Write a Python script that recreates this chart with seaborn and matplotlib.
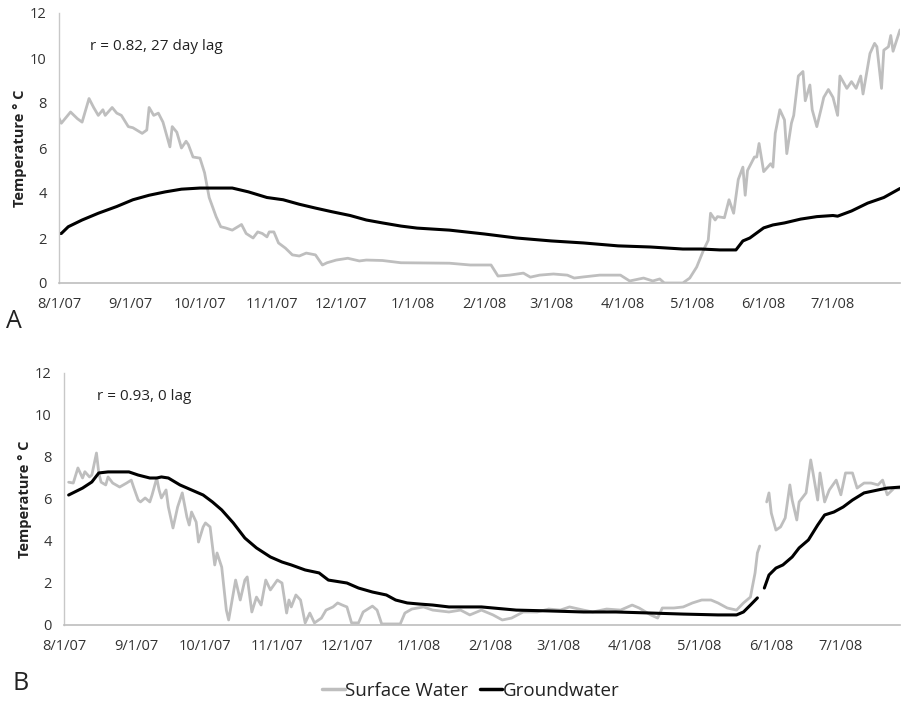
import numpy as np
import pandas as pd
import matplotlib
matplotlib.use("Agg")
import matplotlib.pyplot as plt
import matplotlib.dates as mdates
from matplotlib.ticker import FuncFormatter
from matplotlib.lines import Line2D
import seaborn as sns

START = "2007-08-01"

# ---- Panel A (days since 8/1/07, temperature in deg C) ----
a_sw_day = [0, 1, 5, 8, 10, 13, 15, 17, 19, 20, 23, 25, 27, 30, 32, 36, 38, 39, 41, 43,
            45, 48, 49, 51, 53, 55, 56, 58, 61, 63, 65, 68, 70, 72, 75, 79, 81, 84, 86, 88,
            90, 91, 93, 95, 98, 101, 104, 107, 111, 114, 116, 120, 125, 130, 133, 140, 148, 169, 178, 187,
            190, 195, 201, 204, 208, 214, 220, 223, 227, 234, 243, 247, 253, 257, 260, 262, 270, 273, 276, 279,
            281, 282, 284, 285, 288, 290, 292, 294, 296, 297, 298, 301, 302, 303, 305, 308, 309, 310, 312, 314,
            315, 317, 318, 320, 322, 323, 325, 326, 328, 330, 331, 333, 335, 337, 338, 341, 343, 345, 347, 348,
            351, 353, 354, 356, 357, 359, 360, 361, 364]
a_sw_val = [7.33, 7.1, 7.6, 7.3, 7.15, 8.2, 7.8, 7.45, 7.7, 7.45, 7.8, 7.55, 7.45, 6.95, 6.9, 6.65, 6.8, 7.8, 7.45, 7.55,
            7.15, 6.05, 6.95, 6.7, 6.0, 6.3, 6.15, 5.6, 5.55, 4.9, 3.8, 2.95, 2.5, 2.45, 2.35, 2.6, 2.2, 2.0, 2.27, 2.2,
            2.05, 2.27, 2.27, 1.78, 1.55, 1.25, 1.2, 1.33, 1.25, 0.8, 0.9, 1.02, 1.1, 0.98, 1.02, 1.0, 0.9, 0.88, 0.8, 0.8,
            0.31, 0.35, 0.44, 0.26, 0.35, 0.4, 0.35, 0.22, 0.27, 0.35, 0.35, 0.09, 0.22, 0.09, 0.18, 0.0, 0.0, 0.22, 0.71, 1.47,
            1.9, 3.1, 2.8, 2.95, 2.9, 3.7, 3.1, 4.6, 5.15, 3.9, 5.0, 5.6, 5.6, 6.2, 4.95, 5.3, 5.15, 6.65, 7.7, 7.25,
            5.75, 7.1, 7.45, 9.2, 9.4, 8.1, 8.8, 7.7, 6.95, 7.8, 8.25, 8.6, 8.25, 7.45, 9.2, 8.65, 8.95, 8.65, 9.2, 8.4,
            10.2, 10.65, 10.5, 8.65, 10.35, 10.5, 11.0, 10.3, 11.25]

a_gw_day = [0, 1, 4, 10, 17, 25, 32, 39, 46, 53, 61, 68, 75, 82, 90, 97, 104, 111, 118, 126,
            133, 140, 148, 155, 169, 184, 198, 213, 227, 242, 256, 270, 278, 286, 293, 296, 299, 305, 309, 314,
            321, 328, 335, 337, 343, 350, 357, 364]
a_gw_val = [2.2, 2.2, 2.5, 2.8, 3.1, 3.4, 3.7, 3.9, 4.05, 4.17, 4.22, 4.22, 4.22, 4.05, 3.8, 3.7, 3.5, 3.33, 3.17, 3.0,
            2.8, 2.67, 2.53, 2.44, 2.35, 2.18, 2.0, 1.87, 1.78, 1.65, 1.6, 1.51, 1.51, 1.47, 1.47, 1.87, 2.0, 2.45, 2.58, 2.67,
            2.84, 2.95, 3.0, 2.97, 3.2, 3.55, 3.8, 4.2]

# ---- Panel B (NaN marks a gap in the record) ----
b_sw_day = [2, 4, 6, 8, 9, 11, 12, 14, 15, 16, 18, 19, 21, 24, 27, 29, 30, 32, 33, 35,
            37, 38, 40, 41, 42, 44, 45, 47, 49, 51, 53, 54, 55, 57, 58, 60, 61, 63, 65, 66,
            68, 70, 71, 74, 76, 78, 79, 81, 83, 85, 87, 89, 92, 94, 96, 97, 98, 100, 102, 104,
            106, 108, 111, 113, 116, 118, 120, 122, 124, 127, 129, 133, 135, 137, 145, 147, 150, 155, 159, 166,
            171, 175, 180, 185, 189, 193, 198, 204, 209, 214, 218, 224, 228, 234, 240, 245, 248, 253, 256, 258,
            263, 267, 271, 275, 279, 282, 286, 290, 293, 296, 298, 299, 300, 301.5, 303, 304, 305, 307, 309, 311,
            313, 314, 316, 317, 320, 322, 323, 325, 326, 328, 330, 333, 335, 337, 340, 342, 345, 348, 351, 353,
            355, 358, 361]
b_sw_val = [6.8, 6.76, 7.48, 7.0, 7.3, 7.05, 7.14, 8.19, 7.24, 6.8, 6.67, 7.05, 6.76, 6.57, 6.76, 6.9, 6.57, 5.95, 5.86, 6.05,
            5.86, 6.2, 7.0, 6.43, 6.05, 6.43, 5.62, 4.62, 5.62, 6.29, 5.14, 4.76, 5.38, 4.9, 3.95, 4.67, 4.86, 4.67, 2.86, 3.43,
            2.76, 0.71, 0.24, 2.14, 1.19, 2.14, 2.29, 0.62, 1.33, 0.95, 2.14, 1.67, 2.14, 2.0, 0.57, 1.19, 0.86, 1.43, 1.19, 0.1,
            0.57, 0.1, 0.33, 0.71, 0.86, 1.05, 0.95, 0.86, 0.1, 0.1, 0.62, 0.9, 0.71, 0.05, 0.05, 0.57, 0.76, 0.86, 0.71, 0.62,
            0.71, 0.48, 0.71, 0.48, 0.24, 0.33, 0.62, 0.62, 0.76, 0.71, 0.86, 0.71, 0.62, 0.76, 0.71, 0.95, 0.81, 0.48, 0.33, 0.81,
            0.81, 0.86, 1.05, 1.19, 1.19, 1.05, 0.81, 0.71, 1.05, 1.33, 2.48, 3.43, 3.76, np.nan, 5.86, 6.29, 5.33, 4.52, 4.67, 5.1,
            6.67, 5.95, 5.0, 5.86, 6.29, 7.86, 7.24, 5.95, 7.24, 5.86, 6.43, 6.9, 6.2, 7.24, 7.24, 6.52, 6.76, 6.76, 6.67, 6.9,
            6.2, 6.52, 6.52]

b_gw_day = [2, 8, 12, 15, 19, 24, 28, 32, 37, 40, 42, 45, 50, 55, 60, 64, 68, 73, 78, 83,
            89, 94, 98, 104, 110, 114, 122, 127, 133, 139, 143, 148, 153, 159, 166, 180, 195, 209, 224, 238,
            253, 267, 282, 290, 293, 296, 299, 300.5, 302, 304, 307, 310, 314, 317, 321, 325, 328, 332, 336, 340,
            345, 351, 355, 361]
b_gw_val = [6.19, 6.52, 6.81, 7.24, 7.29, 7.29, 7.29, 7.14, 7.0, 7.0, 7.05, 7.0, 6.67, 6.43, 6.19, 5.86, 5.48, 4.86, 4.14, 3.67,
            3.24, 3.0, 2.86, 2.62, 2.48, 2.14, 2.0, 1.76, 1.57, 1.43, 1.19, 1.05, 1.0, 0.95, 0.86, 0.86, 0.71, 0.67, 0.62, 0.62,
            0.57, 0.52, 0.48, 0.48, 0.62, 0.95, 1.29, np.nan, 1.76, 2.38, 2.71, 2.86, 3.24, 3.67, 4.05, 4.76, 5.24, 5.38, 5.62, 5.95,
            6.29, 6.43, 6.52, 6.57]

y_ticks = [0, 2, 4, 6, 8, 10, 12]
a_note = "r = 0.82, 27 day lag"
b_note = "r = 0.93, 0 lag"
y_label = "Temperature \u00b0 C"
series_names = ["Surface Water", "Groundwater"]

SW_COLOR = "#BEBEBE"
GW_COLOR = "#000000"
FONT = ["Open Sans", "DejaVu Sans"]

sns.set_theme(style="white")
plt.rcParams["font.family"] = FONT

fig = plt.figure(figsize=(9.01, 7.05), dpi=100)
W, H = 901, 705


def ax_rect(x0, x1, ytop, ybot):
    return [x0 / W, 1 - ybot / H, (x1 - x0) / W, (ybot - ytop) / H]


def to_dates(days):
    return pd.Timestamp(START) + pd.to_timedelta(np.asarray(days, dtype=float), unit="D")


def draw_series(ax, days, vals, color, lw):
    df = pd.DataFrame({"date": to_dates(days), "temp": vals})
    grp = df["temp"].isna().cumsum()
    for _, seg in df.groupby(grp):
        seg = seg.dropna()
        if len(seg) > 1:
            sns.lineplot(data=seg, x="date", y="temp", ax=ax, color=color, lw=lw,
                         estimator=None, sort=False, legend=False)


def style_axis(ax, end_day, note, note_xy, ylab_x):
    ax.set_ylim(0, 12)
    ax.set_yticks(y_ticks)
    ax.set_xlim(pd.Timestamp(START), to_dates([end_day])[0])
    ax.xaxis.set_major_locator(mdates.MonthLocator())
    ax.xaxis.set_major_formatter(FuncFormatter(
        lambda v, p: (lambda d: f"{d.month}/{d.day}/{d:%y}")(mdates.num2date(v))))
    for s in ["top", "right"]:
        ax.spines[s].set_visible(False)
    ax.spines["left"].set_color("#C8C8C8")
    ax.spines["bottom"].set_color("#BEBEBE")
    ax.spines["left"].set_linewidth(1.0)
    ax.spines["bottom"].set_linewidth(1.2)
    ax.tick_params(axis="both", length=0, labelsize=10.5, labelcolor="#333333")
    ax.tick_params(axis="x", pad=10)
    ax.tick_params(axis="y", pad=9)
    ax.set_xlabel("")
    ax.set_ylabel(y_label, fontsize=10.5, fontweight="bold", color="#222222")
    ax.yaxis.set_label_coords(ylab_x, 0.5)
    ax.grid(False)
    ax.text(note_xy[0], note_xy[1], note, transform=ax.transAxes, fontsize=11,
            color="#222222", va="center", ha="left")


axA = fig.add_axes(ax_rect(59, 900, 13, 283))
draw_series(axA, a_sw_day, a_sw_val, SW_COLOR, 2.0)
draw_series(axA, a_gw_day, a_gw_val, GW_COLOR, 2.2)
style_axis(axA, 364, a_note, ((90 - 59) / 841, (283 - 47) / 270), (27 - 59) / 841)

axB = fig.add_axes(ax_rect(64, 900, 373, 625))
draw_series(axB, b_sw_day, b_sw_val, SW_COLOR, 2.0)
draw_series(axB, b_gw_day, b_gw_val, GW_COLOR, 2.2)
style_axis(axB, 360.5, b_note, ((97 - 64) / 836, (625 - 397) / 252), (32 - 64) / 836)

fig.text(14 / W, 1 - 321 / H, "A", fontsize=18, color="#222222", va="center", ha="center")
fig.text(21 / W, 1 - 683 / H, "B", fontsize=18, color="#222222", va="center", ha="center")

handles = [Line2D([], [], color=SW_COLOR, lw=2.5), Line2D([], [], color=GW_COLOR, lw=2.5)]
fig.legend(handles, series_names, loc="center", bbox_to_anchor=(471 / W, 1 - 691 / H),
           ncol=2, frameon=False, fontsize=13.5, handlelength=1.2, handletextpad=0.05,
           columnspacing=0.6, labelcolor="#222222")

fig.savefig("out.png", dpi=100)
